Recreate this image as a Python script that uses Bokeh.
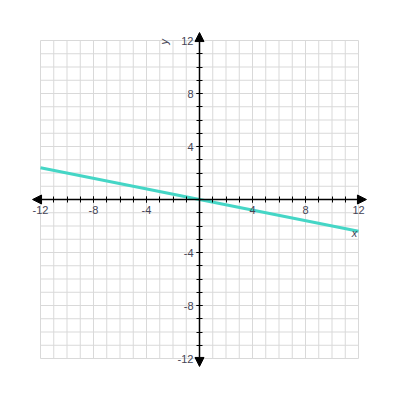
from bokeh.plotting import figure
from bokeh.models import LinearAxis, FixedTicker, Range1d, Arrow, NormalHead, Label
from bokeh.embed import file_html
from bokeh.resources import INLINE

# data
line_x = [-12, 12]
line_y = [2.4, -2.4]
major_ticks = [-12, -8, -4, 4, 8, 12]
tick_labels = ["-12", "-8", "-4", "4", "8", "12"]
minor_ticks = [-12, -11, -10, -9, -8, -7, -6, -5, -4, -3, -2, -1, 1, 2, 3, 4, 5, 6, 7, 8, 9, 10, 11, 12]
grid_ticks = list(range(-12, 13))

s = 13.25
c = 199.0
W = 384
p = figure(width=W, height=W, output_backend="svg", toolbar_location=None,
           x_range=Range1d(-c / s, (W - c) / s), y_range=Range1d(-(W - c) / s, c / s),
           x_axis_type=None, y_axis_type=None, min_border=0)
p.outline_line_color = None
p.background_fill_color = "white"
p.border_fill_color = "white"
p.xgrid.visible = False
p.ygrid.visible = False

n = len(grid_ticks)
p.segment(x0=grid_ticks, y0=[-12] * n, x1=grid_ticks, y1=[12] * n, line_color="#d9d9d9", line_width=1)
p.segment(x0=[-12] * n, y0=grid_ticks, x1=[12] * n, y1=grid_ticks, line_color="#d9d9d9", line_width=1)

p.line(line_x, line_y, line_color="#45d6c6", line_width=3)

overrides = {t: l for t, l in zip(major_ticks, tick_labels)}

def style(ax):
    ax.axis_line_color = None
    ax.major_tick_in = 3
    ax.major_tick_out = 3
    ax.minor_tick_in = 3
    ax.minor_tick_out = 3
    ax.major_tick_line_color = "black"
    ax.minor_tick_line_color = "black"
    ax.major_label_text_font = "Liberation Sans"
    ax.major_label_text_font_size = "11px"
    ax.major_label_text_color = "#444455"
    ax.major_label_standoff = 3
    ax.major_label_overrides = overrides

xa = LinearAxis(fixed_location=0, ticker=FixedTicker(ticks=major_ticks, minor_ticks=minor_ticks))
style(xa)
p.add_layout(xa, "below")
ya = LinearAxis(fixed_location=0, ticker=FixedTicker(ticks=major_ticks, minor_ticks=minor_ticks))
style(ya)
ya.major_label_orientation = "horizontal"
p.add_layout(ya, "left")

ext = 12.6
for (xs, ys, xe, ye) in [(0, 0, ext, 0), (0, 0, -ext, 0), (0, 0, 0, ext), (0, 0, 0, -ext)]:
    p.add_layout(Arrow(end=NormalHead(size=9, fill_color="black", line_color="black"),
                       x_start=xs, y_start=ys, x_end=xe, y_end=ye,
                       line_color="black", line_width=1.5))

p.add_layout(Label(x=11.7, y=-2.5, text="x", text_font="Liberation Sans", text_font_style="italic",
                   text_font_size="11px", text_color="#444455", text_align="center", text_baseline="middle"))
p.add_layout(Label(x=-2.65, y=11.9, text="y", text_font="Liberation Sans", text_font_style="italic",
                   text_font_size="11px", text_color="#444455", text_align="center", text_baseline="middle",
                   angle=1.5708))

open("out.html", "w").write(file_html(p, INLINE))
